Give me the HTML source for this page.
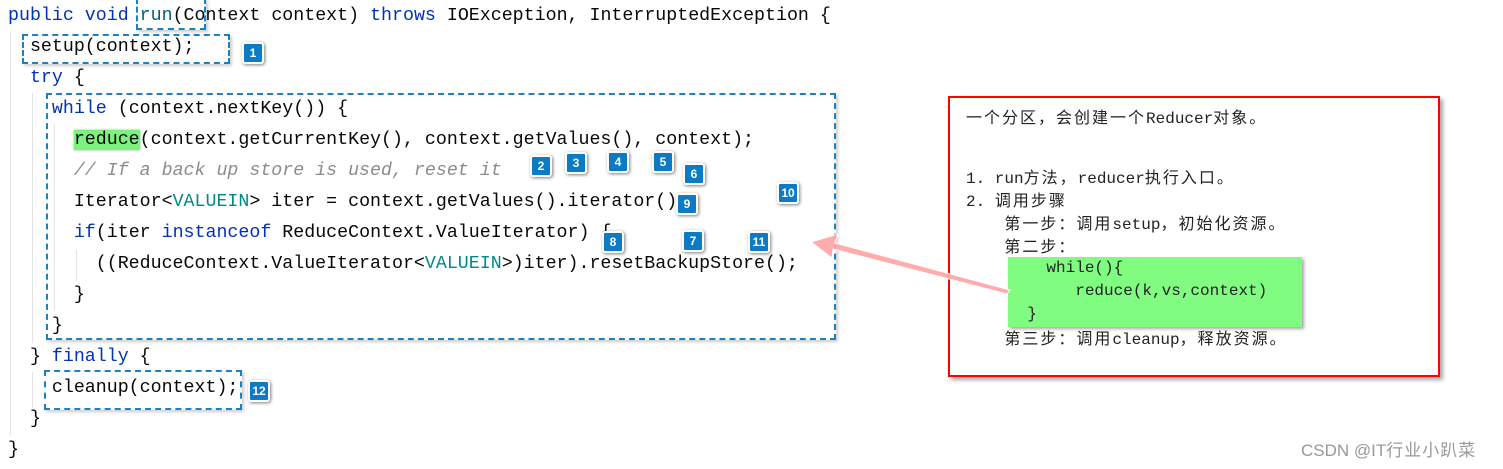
<!DOCTYPE html>
<html><head><meta charset="utf-8"><style>
html,body{margin:0;padding:0;background:#fff;}
body{width:1503px;height:468px;position:relative;overflow:hidden;}
.l{position:absolute;left:8px;height:31px;line-height:31px;font-family:"Liberation Mono",monospace;font-size:18.3px;color:#080808;white-space:pre;}
.k{color:#0033b3;}
.t{color:#008b8b;}
.c{color:#8c8c8c;font-style:italic;}
.hl{background:#7ef07e;box-shadow:0 0 2px #6c6;}
.db{position:absolute;border:2px dashed #1a82c4;box-shadow:2px 2px 3px rgba(0,0,0,.2);}
.b{position:absolute;width:18px;height:18px;background:#0a7bc4;border:2px solid #fff;border-radius:3px;box-shadow:1px 1px 3px rgba(0,0,0,.5);color:#fff;font-family:"Liberation Sans",sans-serif;font-weight:bold;font-size:12px;line-height:18px;text-align:center;}
.g{position:absolute;width:1px;background:#e4e4e4;}
.r{position:absolute;left:948px;top:96px;width:488px;height:277px;border:2px solid #f00;box-shadow:3px 3px 4px rgba(0,0,0,.35);background:#fff;}
.rt{position:absolute;height:23px;font-family:"Liberation Mono","Noto Sans CJK SC",monospace;font-size:16px;color:#222;white-space:pre;line-height:23px;}
.z{letter-spacing:2px;font-family:"Noto Sans CJK SC",sans-serif;line-height:23px;}
</style></head><body>
<div class="g" style="left:10px;top:31px;height:405px"></div>
<div class="g" style="left:32px;top:93px;height:250px"></div>
<div class="g" style="left:32px;top:372px;height:36px"></div>
<div class="g" style="left:54px;top:124px;height:186px"></div>
<div class="g" style="left:76px;top:250px;height:31px"></div>

<div style="position:absolute;left:0;top:1px;width:1503px;height:468px">
<div class="l" style="top:0"><span class="k">public void </span><span style="color:#00627a">run</span>(Context context) <span class="k">throws</span> IOException, InterruptedException {</div>
<div class="l" style="top:31px">  setup(context);</div>
<div class="l" style="top:62px">  <span class="k">try</span> {</div>
<div class="l" style="top:93px">    <span class="k">while</span> (context.nextKey()) {</div>
<div class="l" style="top:124px">      <span class="hl">reduce</span>(context.getCurrentKey(), context.getValues(), context);</div>
<div class="l" style="top:155px">      <span class="c">// If a back up store is used, reset it</span></div>
<div class="l" style="top:186px">      Iterator&lt;<span class="t">VALUEIN</span>&gt; iter = context.getValues().iterator();</div>
<div class="l" style="top:217px">      <span class="k">if</span>(iter <span class="k">instanceof</span> ReduceContext.ValueIterator) {</div>
<div class="l" style="top:248px">        ((ReduceContext.ValueIterator&lt;<span class="t">VALUEIN</span>&gt;)iter).resetBackupStore();</div>
<div class="l" style="top:279px">      }</div>
<div class="l" style="top:310px">    }</div>
<div class="l" style="top:341px">  } <span class="k">finally</span> {</div>
<div class="l" style="top:372px">    cleanup(context);</div>
<div class="l" style="top:403px">  }</div>
<div class="l" style="top:434px">}</div>
</div>

<div class="db" style="left:136px;top:-2px;width:66px;height:28px"></div>
<div class="db" style="left:22px;top:34px;width:204px;height:26px"></div>
<div class="db" style="left:46px;top:93px;width:786px;height:243px"></div>
<div class="db" style="left:44px;top:370px;width:194px;height:36px"></div>

<div class="b" style="left:242px;top:42px">1</div>
<div class="b" style="left:530px;top:155px">2</div>
<div class="b" style="left:565px;top:152px">3</div>
<div class="b" style="left:607px;top:151px">4</div>
<div class="b" style="left:652px;top:151px">5</div>
<div class="b" style="left:683px;top:163px">6</div>
<div class="b" style="left:676px;top:193px">9</div>
<div class="b" style="left:777px;top:182px">10</div>
<div class="b" style="left:602px;top:231px">8</div>
<div class="b" style="left:682px;top:230px">7</div>
<div class="b" style="left:748px;top:231px">11</div>
<div class="b" style="left:248px;top:380px">12</div>

<div class="r"></div>
<div class="rt" style="left:966px;top:105px"><span class="z">一个分区，会创建一个</span>Reducer<span class="z">对象。</span></div>
<div class="rt" style="left:966px;top:165px">1. run<span class="z">方法，</span>reducer<span class="z">执行入口。</span></div>
<div class="rt" style="left:966px;top:188px">2. <span class="z">调用步骤</span></div>
<div class="rt" style="left:966px;top:211px">    <span class="z">第一步：调用</span>setup<span class="z">，初始化资源。</span></div>
<div class="rt" style="left:966px;top:234px">    <span class="z">第二步：</span></div>
<div style="position:absolute;left:1008px;top:257px;width:294px;height:70px;background:#80fc80;box-shadow:2px 2px 3px rgba(0,0,0,.35)"></div>
<div class="rt" style="left:1008px;top:257px">    while(){</div>
<div class="rt" style="left:1008px;top:280px">       reduce(k,vs,context)</div>
<div class="rt" style="left:1008px;top:303px">  }</div>
<div class="rt" style="left:966px;top:326px">    <span class="z">第三步：调用</span>cleanup<span class="z">，释放资源。</span></div>

<svg style="position:absolute;left:0;top:0" width="1503" height="468">
<polygon points="811,242 838,234 835,243 1010,290 1007,294 833,249 832,258" fill="#ffa8a8" stroke="#fff" stroke-width="1" opacity="0.95"/>
</svg>

<div style="position:absolute;left:1301px;top:436px;font-family:'Liberation Sans','Noto Sans CJK SC',sans-serif;font-size:17px;color:#999;">CSDN @IT<span style="letter-spacing:1px">行业小趴菜</span></div>
</body></html>
